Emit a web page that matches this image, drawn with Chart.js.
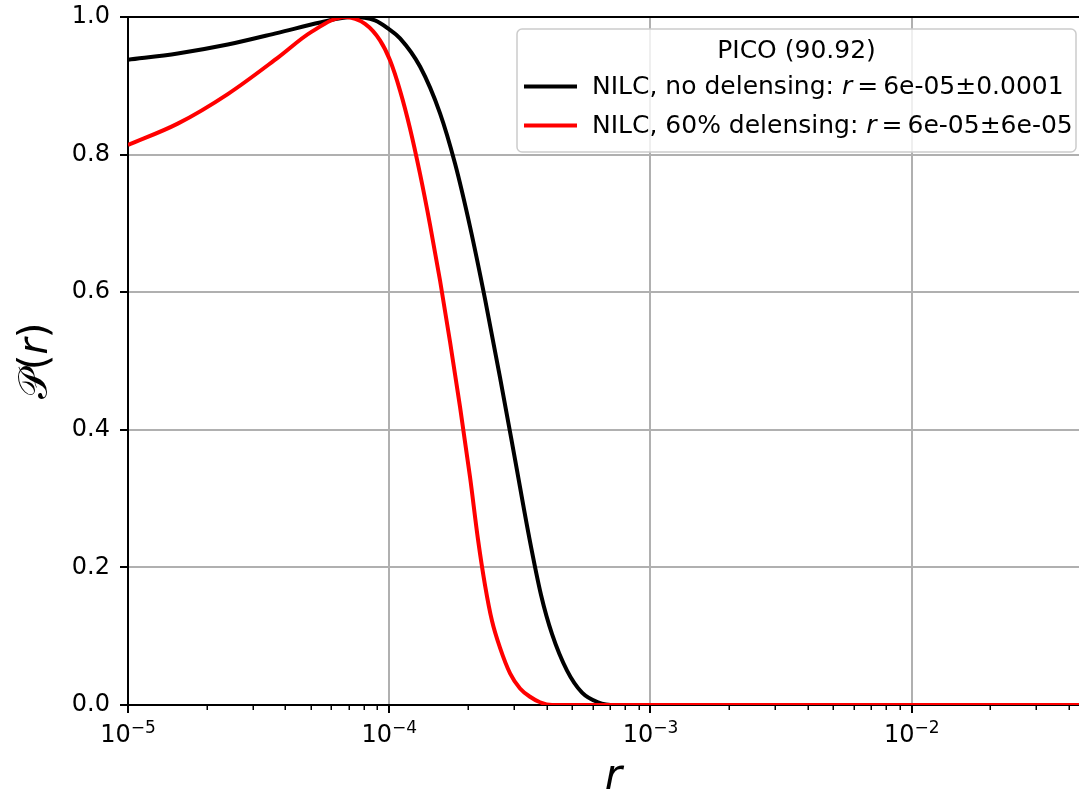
<!DOCTYPE html>
<html>
<head>
<meta charset="utf-8">
<script src="https://cdn.jsdelivr.net/npm/chart.js@4.4.0/dist/chart.umd.min.js"></script>
<style>
  html, body { margin: 0; padding: 0; background: #fff; }
  #wrap { width: 1079px; height: 792px; }
</style>
</head>
<body>
<div id="wrap"><canvas id="chart"></canvas></div>
<script>
// values
const noDelensR = [1.0e-5, 1.55e-5, 2.41e-5, 3.75e-5, 5.44e-5, 7.20e-5, 8.82e-5, 1.0e-4, 1.100e-4, 1.312e-4, 1.565e-4, 1.786e-4, 2.039e-4, 2.327e-4, 2.656e-4, 3.031e-4, 3.429e-4, 3.812e-4, 4.201e-4, 4.794e-4, 5.472e-4, 6.302e-4, 7.318e-4, 1.0e-3, 4.4e-2];
const noDelensP = [0.938, 0.947, 0.960, 0.977, 0.992, 1.0, 0.995, 0.982, 0.969, 0.928, 0.860, 0.787, 0.695, 0.590, 0.476, 0.357, 0.245, 0.160, 0.103, 0.050, 0.018, 0.004, 0.0, 0.0, 0.0];

const delensR = [1.0e-5, 1.55e-5, 2.41e-5, 3.75e-5, 5.02e-5, 6.77e-5, 8.08e-5, 9.22e-5, 1.007e-4, 1.100e-4, 1.201e-4, 1.312e-4, 1.433e-4, 1.565e-4, 1.709e-4, 1.867e-4, 2.039e-4, 2.188e-4, 2.327e-4, 2.475e-4, 2.656e-4, 2.901e-4, 3.168e-4, 3.459e-4, 3.778e-4, 4.201e-4, 1.0e-3, 4.4e-2];
const delensP = [0.814, 0.845, 0.888, 0.941, 0.978, 1.0, 0.990, 0.966, 0.937, 0.893, 0.838, 0.772, 0.698, 0.617, 0.528, 0.433, 0.331, 0.240, 0.174, 0.122, 0.083, 0.046, 0.024, 0.012, 0.004, 0.0, 0.0, 0.0];

const xTickExponents = [-5, -4, -3, -2];
const yTicks = [0, 0.2, 0.4, 0.6, 0.8, 1.0];
const legendTitle = 'PICO (90.92)';
// label pieces: plain text, italic symbol, rest
const legendLabels = [
  ['NILC, no delensing: ', 'r', '\u2009=\u20096e-05\u00b10.0001'],
  ['NILC, 60% delensing: ', 'r', '\u2009=\u20096e-05\u00b16e-05']
];

const FONT = '"DejaVu Sans", sans-serif';
const X_MIN = 1e-5, X_MAX = 0.0437;

function isDecade(v) {
  const l = Math.log10(v);
  return Math.abs(l - Math.round(l)) < 1e-6;
}

function toPoints(xs, ys) {
  return xs.map((x, i) => ({ x: x, y: ys[i] }));
}

// top spine, minor x ticks, x tick labels with exponents, axis titles
const axesExtras = {
  id: 'axesExtras',
  afterDatasetsDraw(chart) {
    const ctx = chart.ctx, a = chart.chartArea;
    ctx.save();
    ctx.strokeStyle = '#000';
    ctx.lineWidth = 2;
    ctx.beginPath();
    ctx.moveTo(a.left - 1, a.top);
    ctx.lineTo(a.right, a.top);
    ctx.stroke();
    ctx.restore();
  },
  afterDraw(chart) {
    const ctx = chart.ctx, a = chart.chartArea, sx = chart.scales.x;
    ctx.save();
    // minor ticks
    ctx.strokeStyle = '#000';
    ctx.lineWidth = 1.5;
    for (let d = -5; d <= -2; d++) {
      for (let k = 2; k <= 9; k++) {
        const v = k * Math.pow(10, d);
        if (v > X_MAX) continue;
        const px = Math.round(sx.getPixelForValue(v)) + 0.25;
        ctx.beginPath();
        ctx.moveTo(px, a.bottom + 1);
        ctx.lineTo(px, a.bottom + 5);
        ctx.stroke();
      }
    }
    // x tick labels
    ctx.fillStyle = '#000';
    ctx.textAlign = 'left';
    ctx.textBaseline = 'alphabetic';
    xTickExponents.forEach(e => {
      const px = sx.getPixelForValue(Math.pow(10, e));
      const base = '10', sup = '\u2212' + Math.abs(e);
      ctx.font = '24px ' + FONT;
      const w1 = ctx.measureText(base).width;
      ctx.font = '17px ' + FONT;
      const w2 = ctx.measureText(sup).width;
      const x0 = px - (w1 + w2) / 2;
      ctx.font = '24px ' + FONT;
      ctx.fillText(base, x0, 742);
      ctx.font = '17px ' + FONT;
      ctx.fillText(sup, x0 + w1, 733);
    });
    // x title
    ctx.font = 'italic 42px ' + FONT;
    ctx.textAlign = 'center';
    ctx.fillText('r', (a.left + a.right) / 2 + 10, 789);
    // y title
    ctx.translate(47, (a.top + a.bottom) / 2);
    ctx.rotate(-Math.PI / 2);
    const parts = [['\ud835\udcab', '40px ' + FONT], ['(', '40px ' + FONT], ['r', 'italic 40px ' + FONT], [')', '40px ' + FONT]];
    let total = 0;
    parts.forEach(p => { ctx.font = p[1]; p.push(ctx.measureText(p[0]).width); total += p[2]; });
    let cx = -total / 2;
    ctx.textAlign = 'left';
    parts.forEach(p => { ctx.font = p[1]; ctx.fillText(p[0], cx, 0); cx += p[2]; });
    ctx.restore();
  }
};

// legend drawn like matplotlib's framed legend
const boxLegend = {
  id: 'boxLegend',
  afterDraw(chart) {
    const ctx = chart.ctx;
    const L = 517, T = 29, R = 1076, B = 152;
    ctx.save();
    ctx.beginPath();
    ctx.roundRect(L, T, R - L, B - T, 5);
    ctx.fillStyle = 'rgba(255,255,255,0.8)';
    ctx.fill();
    ctx.strokeStyle = '#cccccc';
    ctx.lineWidth = 1.5;
    ctx.stroke();

    ctx.fillStyle = '#000';
    ctx.font = '25px ' + FONT;
    ctx.textAlign = 'center';
    ctx.textBaseline = 'alphabetic';
    ctx.fillText(legendTitle, (L + R) / 2, 58);

    const rows = [94, 133];
    chart.data.datasets.forEach(ds => {
      const base = rows[ds.legendRow];
      ctx.strokeStyle = ds.borderColor;
      ctx.lineWidth = 4;
      ctx.beginPath();
      ctx.moveTo(524, base - 7.5);
      ctx.lineTo(577, base - 7.5);
      ctx.stroke();
      const pieces = legendLabels[ds.legendRow];
      let x = 592;
      ctx.textAlign = 'left';
      pieces.forEach((txt, j) => {
        ctx.font = (j === 1 ? 'italic ' : '') + '25px ' + FONT;
        ctx.fillText(txt, x, base);
        x += ctx.measureText(txt).width;
      });
    });
    ctx.restore();
  }
};

new Chart(document.getElementById('chart'), {
  type: 'line',
  data: {
    datasets: [
      {
        label: legendLabels[1].join(''),
        data: toPoints(delensR, delensP),
        borderColor: '#ff0000',
        borderWidth: 4,
        pointRadius: 0,
        cubicInterpolationMode: 'monotone',
        order: 1,
        legendRow: 1
      },
      {
        label: legendLabels[0].join(''),
        data: toPoints(noDelensR, noDelensP),
        borderColor: '#000000',
        borderWidth: 4,
        pointRadius: 0,
        cubicInterpolationMode: 'monotone',
        order: 2,
        legendRow: 0
      }
    ]
  },
  options: {
    responsive: true,
    maintainAspectRatio: false,
    animation: false,
    layout: { autoPadding: false, padding: { top: 17, left: 0, right: 0, bottom: 0 } },
    plugins: {
      legend: { display: false },
      tooltip: { enabled: false }
    },
    scales: {
      x: {
        type: 'logarithmic',
        min: X_MIN,
        max: X_MAX,
        afterFit(s) {
          s.height = 87;
          s.paddingLeft = 0; s.paddingRight = 0;
          s.paddingTop = 0; s.paddingBottom = 0;
        },
        border: { color: '#000', width: 2 },
        grid: {
          color: c => (c.tick && isDecade(c.tick.value)) ? '#b0b0b0' : 'rgba(0,0,0,0)',
          lineWidth: 2,
          tickLength: 8,
          tickWidth: 2,
          tickColor: c => (c.tick && isDecade(c.tick.value)) ? '#000' : 'rgba(0,0,0,0)'
        },
        ticks: {
          autoSkip: false,
          maxRotation: 0,
          callback: () => ''
        }
      },
      y: {
        min: 0,
        max: 1,
        afterFit(s) {
          s.width = 128;
          s.paddingLeft = 0; s.paddingRight = 0;
          s.paddingTop = 0; s.paddingBottom = 0;
        },
        afterBuildTicks(s) { s.ticks = yTicks.map(v => ({ value: v })); },
        border: { color: '#000', width: 2 },
        grid: {
          color: '#b0b0b0',
          lineWidth: 2,
          tickLength: 8,
          tickWidth: 2,
          tickColor: '#000'
        },
        ticks: {
          padding: 10,
          color: '#000',
          font: { family: FONT, size: 24 },
          callback: v => v.toFixed(1)
        }
      }
    }
  },
  plugins: [axesExtras, boxLegend]
});
</script>
</body>
</html>
